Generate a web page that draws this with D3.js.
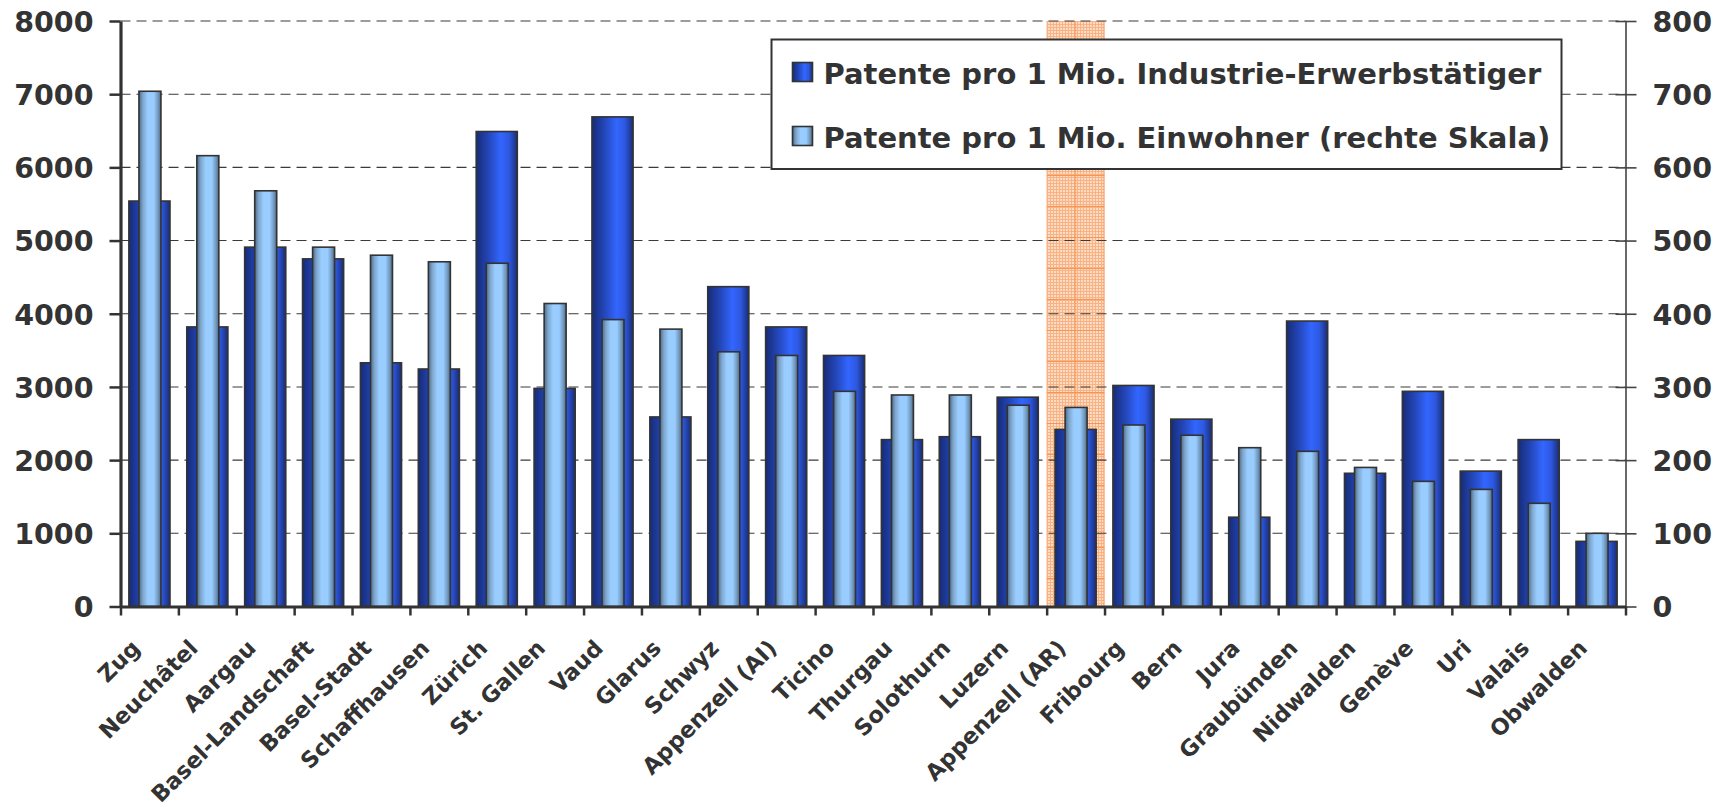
<!DOCTYPE html>
<html>
<head>
<meta charset="utf-8">
<script src="https://cdn.jsdelivr.net/npm/d3@7"></script>
<style>
  html, body { margin: 0; padding: 0; background: #fff; }
  svg { display: block; }
  text { font-family: "DejaVu Sans", Verdana, sans-serif; font-weight: bold; fill: #333; }
</style>
</head>
<body>
<svg id="chart" width="1728" height="809"></svg>
<script>
// Cantons, ordered by patents per 1 million residents
const cantons = ["Zug", "Neuchâtel", "Aargau", "Basel-Landschaft", "Basel-Stadt", "Schaffhausen",
  "Zürich", "St. Gallen", "Vaud", "Glarus", "Schwyz", "Appenzell (AI)", "Ticino", "Thurgau",
  "Solothurn", "Luzern", "Appenzell (AR)", "Fribourg", "Bern", "Jura", "Graubünden", "Nidwalden",
  "Genève", "Uri", "Valais", "Obwalden"];

// Patents per 1 million industrial workers (left scale)
const perWorkers = [5540, 3820, 4910, 4750, 3330, 3245, 6490, 2980, 6690, 2590, 4370, 3820, 3430,
  2280, 2320, 2860, 2420, 3020, 2560, 1220, 3900, 1820, 2940, 1850, 2280, 890];

// Patents per 1 million residents (right scale)
const perResidents = [704, 616, 568, 491, 480, 471, 469, 414, 392, 379, 348, 343, 294, 289, 289,
  275, 272, 248, 234, 217, 212, 190, 171, 160, 141, 100];

const leftTicks = [0, 1000, 2000, 3000, 4000, 5000, 6000, 7000, 8000];
const rightTicks = [0, 100, 200, 300, 400, 500, 600, 700, 800];
const seriesNames = ["Patente pro 1 Mio. Industrie-Erwerbstätiger",
                     "Patente pro 1 Mio. Einwohner (rechte Skala)"];
const highlighted = "Appenzell (AR)";

const svg = d3.select("#chart");
const plot = { left: 120.5, right: 1625.5, top: 21, bottom: 606.5 };

const x = d3.scaleBand().domain(cantons).range([plot.left, plot.right]);
const bw = x.bandwidth();
const yL = d3.scaleLinear().domain([0, 8000]).range([plot.bottom, plot.top]);
const yR = d3.scaleLinear().domain([0, 800]).range([plot.bottom, plot.top]);
const xEdge = d3.scaleLinear().domain([0, cantons.length]).range([plot.left, plot.right]);

// ---- gradients and pattern ----
const defs = svg.append("defs");
function hGrad(id, stops) {
  const g = defs.append("linearGradient").attr("id", id)
    .attr("x1", "0%").attr("x2", "100%").attr("y1", "0%").attr("y2", "0%");
  stops.forEach(([o, c]) => g.append("stop").attr("offset", o).attr("stop-color", c));
}
hGrad("gradDark", [["0%", "#172c78"], ["30%", "#2346b8"], ["60%", "#3366ff"],
                   ["80%", "#2d58e0"], ["100%", "#1a2d74"]]);
hGrad("gradLight", [["0%", "#4b6a8a"], ["18%", "#7ea6cc"], ["40%", "#99ccff"],
                    ["68%", "#99ccff"], ["88%", "#7096ba"], ["100%", "#4a6886"]]);

const fine = defs.append("pattern").attr("id", "fineGrid")
  .attr("patternUnits", "userSpaceOnUse").attr("width", 3).attr("height", 3);
fine.append("rect").attr("width", 3).attr("height", 3).attr("fill", "#fddcc5");
fine.append("rect").attr("width", 3).attr("height", 1).attr("fill", "#f9b283");
fine.append("rect").attr("width", 1).attr("height", 3).attr("fill", "#f9b283");

const coarse = defs.append("pattern").attr("id", "coarseGrid")
  .attr("patternUnits", "userSpaceOnUse")
  .attr("x", x(highlighted)).attr("y", plot.top)
  .attr("width", bw / 2).attr("height", 31);
coarse.append("rect").attr("x", bw / 2 - 1).attr("width", 1).attr("height", 31).attr("fill", "#f79552");
coarse.append("rect").attr("y", 30).attr("width", bw / 2).attr("height", 1).attr("fill", "#f79552");

// ---- highlighted canton band ----
const band = svg.append("g");
["fineGrid", "coarseGrid"].forEach(p => {
  band.append("rect")
    .attr("x", x(highlighted)).attr("y", plot.top)
    .attr("width", bw).attr("height", plot.bottom - plot.top)
    .attr("fill", `url(#${p})`);
});

// ---- horizontal grid ----
svg.append("g")
  .selectAll("line").data(leftTicks.filter(d => d > 0)).join("line")
  .attr("x1", plot.left).attr("x2", plot.right)
  .attr("y1", d => yL(d)).attr("y2", d => yL(d))
  .attr("stroke", "#3a3a3a").attr("stroke-width", 1.1)
  .attr("stroke-dasharray", "10,6");

// ---- bars ----
const darkW = bw * 0.71, lightW = bw * 0.38;
svg.append("g").selectAll("rect").data(cantons).join("rect")
  .attr("x", (c) => x(c) + (bw - darkW) / 2)
  .attr("y", (c, i) => yL(perWorkers[i]))
  .attr("width", darkW)
  .attr("height", (c, i) => yL(0) - yL(perWorkers[i]))
  .attr("fill", "url(#gradDark)")
  .attr("stroke", "#333").attr("stroke-width", 1.6);

svg.append("g").selectAll("rect").data(cantons).join("rect")
  .attr("x", (c) => x(c) + (bw - lightW) / 2 + 0.5)
  .attr("y", (c, i) => yR(perResidents[i]))
  .attr("width", lightW)
  .attr("height", (c, i) => yR(0) - yR(perResidents[i]))
  .attr("fill", "url(#gradLight)")
  .attr("stroke", "#333").attr("stroke-width", 1.6);

// ---- axes ----
const fmt = d3.format("d");
const axLeft = svg.append("g").attr("transform", `translate(${plot.left},0)`)
  .call(d3.axisLeft(yL).tickValues(leftTicks).tickFormat(fmt)
    .tickSize(11).tickPadding(16).tickSizeOuter(0));
axLeft.select(".domain").attr("stroke", "#333").attr("stroke-width", 3.2);
axLeft.selectAll(".tick line").attr("stroke", "#333").attr("stroke-width", 2.5);
axLeft.selectAll(".tick text").attr("font-size", 28.5).attr("fill", "#333")
  .attr("font-family", "DejaVu Sans").attr("font-weight", "bold").attr("dy", "0.36em");

const axRight = svg.append("g").attr("transform", `translate(${plot.right},0)`)
  .call(d3.axisRight(yR).tickValues(rightTicks).tickFormat(fmt)
    .tickSize(11).tickPadding(16).tickSizeOuter(0));
axRight.select(".domain").attr("stroke", "#444").attr("stroke-width", 1.6);
axRight.selectAll(".tick line").attr("x1", -10).attr("stroke", "#444").attr("stroke-width", 1.6);
axRight.selectAll(".tick text").attr("font-size", 28.5).attr("fill", "#333")
  .attr("font-family", "DejaVu Sans").attr("font-weight", "bold").attr("dy", "0.36em");

// category boundary ticks
const axEdges = svg.append("g").attr("transform", `translate(0,${plot.bottom})`)
  .call(d3.axisBottom(xEdge).tickValues(d3.range(cantons.length + 1)).tickFormat("")
    .tickSize(9).tickSizeOuter(0));
axEdges.select(".domain").attr("stroke", "#333").attr("stroke-width", 3.2);
axEdges.selectAll(".tick line").attr("stroke", "#333").attr("stroke-width", 2.5);

// category labels, rotated
const axCat = svg.append("g").attr("transform", `translate(0,${plot.bottom})`)
  .call(d3.axisBottom(x).tickSize(0));
axCat.select(".domain").remove();
axCat.selectAll(".tick text")
  .attr("y", 0).attr("dy", 0)
  .attr("transform", "translate(-8,43) rotate(-45)")
  .attr("text-anchor", "end")
  .attr("font-size", 22.5).attr("fill", "#333")
  .attr("font-family", "DejaVu Sans").attr("font-weight", "bold");

// ---- legend ----
const legend = svg.append("g").attr("transform", "translate(771.5,39.5)");
legend.append("rect").attr("width", 790).attr("height", 129.5)
  .attr("fill", "#fff").attr("stroke", "#333").attr("stroke-width", 2);
const legendFills = ["url(#gradDark)", "url(#gradLight)"];
const item = legend.selectAll("g.item").data(seriesNames).join("g")
  .attr("class", "item")
  .attr("transform", (d, i) => `translate(21,${23 + i * 64})`);
item.append("rect").attr("width", 20).attr("height", 19)
  .attr("fill", (d, i) => legendFills[i]).attr("stroke", "#333").attr("stroke-width", 1.6);
item.append("text").attr("x", 31).attr("y", 21.5)
  .attr("font-size", 29).text(d => d);
</script>
</body>
</html>
